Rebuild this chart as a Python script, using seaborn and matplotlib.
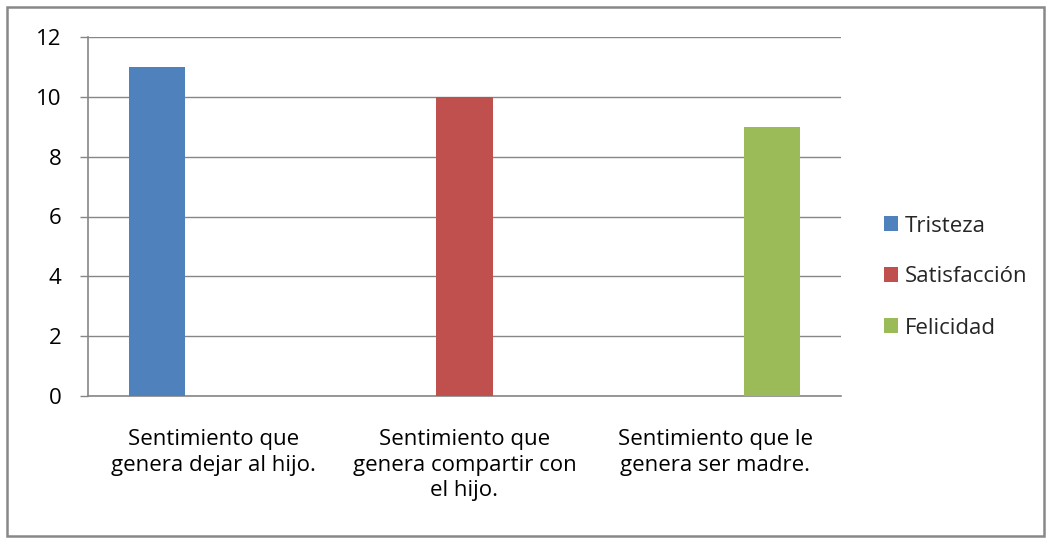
import matplotlib
matplotlib.use("Agg")
import matplotlib.pyplot as plt
import seaborn as sns
import pandas as pd
from matplotlib.patches import Rectangle, Patch

categories = ["Sentimiento que\ngenera dejar al hijo.",
              "Sentimiento que\ngenera compartir con\nel hijo.",
              "Sentimiento que le\ngenera ser madre."]
series = ["Tristeza", "Satisfacción", "Felicidad"]
bar_category = [categories[0], categories[1], categories[2]]
bar_series = ["Tristeza", "Satisfacción", "Felicidad"]
bar_values = [11, 10, 9]
colors = ["#4F81BD", "#C0504D", "#9BBB59"]
yticks = [0, 2, 4, 6, 8, 10, 12]

sns.set_theme(style="white")
plt.rcParams["font.family"] = ["Open Sans", "DejaVu Sans"]

df = pd.DataFrame({"cat": bar_category, "serie": bar_series, "val": bar_values})

W, H = 1049, 540
FS = 16
fig = plt.figure(figsize=(W / 100, H / 100), dpi=100)
ax = fig.add_axes([88 / W, 1 - 396 / H, (841 - 88) / W, (396 - 37) / H])

sns.barplot(data=df, x="cat", y="val", hue="serie", order=categories,
            hue_order=series, palette=colors, width=0.67, dodge=True,
            saturation=1, ax=ax, legend=False, zorder=3, linewidth=0,
            edgecolor="none")

grid_c = "#868686"
ax.set_xlim(-0.5, 2.5)
ax.set_ylim(0, 12)
ax.set_yticks(yticks)
ax.set_yticklabels([str(v) for v in yticks], fontsize=FS, color="black")
ax.yaxis.grid(True, color=grid_c, linewidth=1)
ax.set_axisbelow(True)
ax.set_xlabel("")
ax.set_ylabel("")
ax.tick_params(axis="x", which="major", length=0, pad=24, labelsize=FS, labelcolor="black")
ax.set_xticks([-0.5, 0.5, 1.5, 2.5], minor=True)
ax.tick_params(axis="x", which="minor", length=6, color=grid_c, width=1, direction="out")
ax.tick_params(axis="y", length=6, color=grid_c, width=1, direction="out", pad=13, left=True)
for lbl in ax.get_xticklabels():
    lbl.set_horizontalalignment("center")
    lbl.set_multialignment("center")
    lbl.set_linespacing(1.28)
    lbl.set_verticalalignment("top")
for s in ["top", "right"]:
    ax.spines[s].set_visible(False)
for s in ["left", "bottom"]:
    ax.spines[s].set_color(grid_c)
    ax.spines[s].set_linewidth(1.2)

handles = [Patch(facecolor=c, edgecolor="none") for c in colors]
leg = fig.legend(handles, series, loc="center left",
                 bbox_to_anchor=(864 / W, 1 - 277 / H), frameon=False,
                 fontsize=FS, handlelength=0.65, handleheight=0.65,
                 handletextpad=0.3, labelspacing=1.35)

fig.patches.append(Rectangle((7 / W, 4 / H), (1044 - 7) / W, (533 - 4) / H,
                             transform=fig.transFigure, fill=False,
                             edgecolor="#888888", linewidth=1.8))

fig.savefig("out.png", dpi=100)
